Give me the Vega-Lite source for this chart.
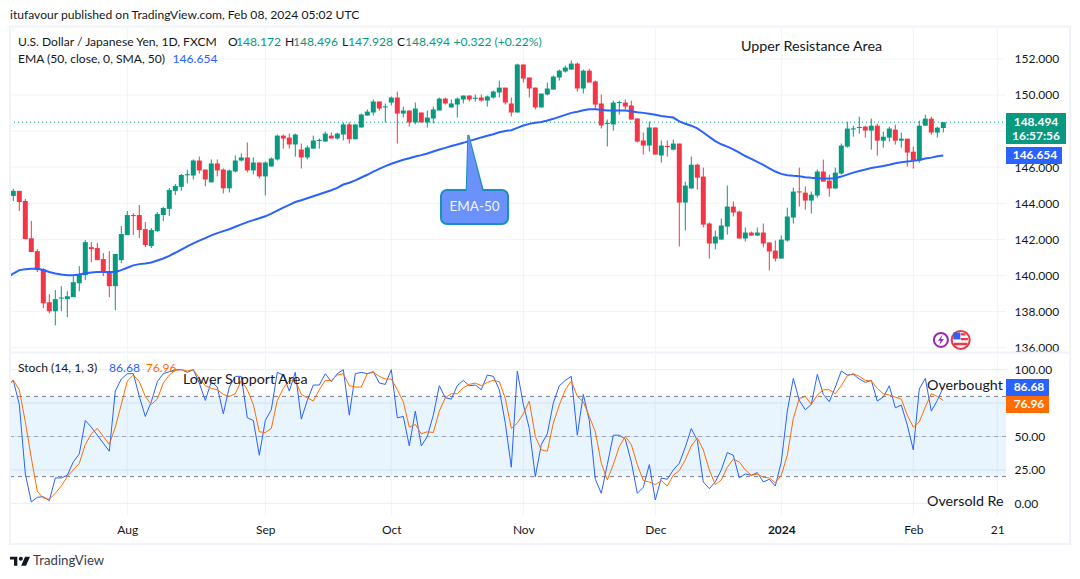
{
  "$schema": "https://vega.github.io/schema/vega-lite/v6.json",
  "width": 1080,
  "height": 579,
  "autosize": "none",
  "padding": 0,
  "background": "#ffffff",
  "config": {"font": "Lato", "view": {"stroke": null}},
  "datasets": {
    "ohlc": [
      {"i":-0.55,"ema":139.98,"k":90,"d":90},
      {"i":0,"o":144.41,"h":144.8,"l":144.13,"c":144.69,"ema":140.11,"k":92,"d":92},
      {"i":1,"o":144.69,"h":144.69,"l":143.57,"c":144.07,"ema":140.3,"k":74,"d":85},
      {"i":2,"o":144.13,"h":144.24,"l":142.02,"c":142.02,"ema":140.35,"k":22,"d":61},
      {"i":3,"o":142.07,"h":143.02,"l":141.3,"c":141.3,"ema":140.37,"k":1,"d":34},
      {"i":4,"o":141.35,"h":141.46,"l":140.19,"c":140.3,"ema":140.37,"k":4.5,"d":9},
      {"i":5,"o":140.35,"h":140.41,"l":138.19,"c":138.46,"ema":140.3,"k":5,"d":4},
      {"i":6,"o":138.52,"h":138.96,"l":137.91,"c":138.02,"ema":140.19,"k":2,"d":3},
      {"i":7,"o":138.02,"h":139.19,"l":137.24,"c":138.69,"ema":140.11,"k":19,"d":7.5},
      {"i":8,"o":138.72,"h":139.41,"l":138.02,"c":138.78,"ema":140.06,"k":19,"d":13},
      {"i":9,"o":138.69,"h":139.13,"l":137.69,"c":138.85,"ema":140.02,"k":21,"d":20},
      {"i":10,"o":138.8,"h":139.96,"l":138.8,"c":139.63,"ema":140.02,"k":31,"d":25},
      {"i":11,"o":139.57,"h":140.52,"l":139.13,"c":140.07,"ema":140.06,"k":37,"d":30},
      {"i":12,"o":140.02,"h":141.96,"l":139.74,"c":141.85,"ema":140.13,"k":62,"d":44},
      {"i":13,"o":141.57,"h":141.85,"l":140.74,"c":141.46,"ema":140.17,"k":57,"d":52},
      {"i":14,"o":141.52,"h":141.8,"l":140.85,"c":140.85,"ema":140.19,"k":51,"d":56},
      {"i":15,"o":140.91,"h":141.24,"l":139.96,"c":140.19,"ema":140.19,"k":45,"d":50},
      {"i":16,"o":140.24,"h":141.35,"l":138.8,"c":139.41,"ema":140.19,"k":39,"d":44},
      {"i":17,"o":139.41,"h":141.19,"l":138.07,"c":141.19,"ema":140.2,"k":84,"d":57},
      {"i":18,"o":140.85,"h":142.74,"l":140.69,"c":142.3,"ema":140.3,"k":93,"d":74},
      {"i":19,"o":142.24,"h":143.57,"l":142.24,"c":143.35,"ema":140.43,"k":97,"d":91.5},
      {"i":20,"o":143.35,"h":143.46,"l":142.24,"c":143.29,"ema":140.56,"k":97,"d":96},
      {"i":21,"o":143.35,"h":143.91,"l":142.07,"c":142.52,"ema":140.63,"k":80,"d":91},
      {"i":22,"o":142.57,"h":142.96,"l":141.57,"c":141.69,"ema":140.67,"k":65,"d":80},
      {"i":23,"o":141.63,"h":142.63,"l":141.52,"c":142.52,"ema":140.72,"k":76,"d":74},
      {"i":24,"o":142.46,"h":143.52,"l":142.41,"c":143.41,"ema":140.83,"k":91,"d":78},
      {"i":25,"o":143.35,"h":143.8,"l":143.02,"c":143.74,"ema":140.94,"k":97,"d":90},
      {"i":26,"o":143.69,"h":144.85,"l":143.3,"c":144.74,"ema":141.09,"k":98.5,"d":96},
      {"i":27,"o":144.69,"h":145.07,"l":144.46,"c":144.96,"ema":141.26,"k":100,"d":99.5},
      {"i":28,"o":144.91,"h":145.63,"l":144.69,"c":145.57,"ema":141.44,"k":100,"d":100},
      {"i":29,"o":145.55,"h":145.87,"l":145.1,"c":145.61,"ema":141.61,"k":98,"d":99},
      {"i":30,"o":145.54,"h":146.43,"l":145.32,"c":146.37,"ema":141.78,"k":100,"d":100},
      {"i":31,"o":146.37,"h":146.59,"l":145.65,"c":145.82,"ema":141.93,"k":90,"d":93.5},
      {"i":32,"o":145.87,"h":145.87,"l":144.94,"c":145.32,"ema":142.07,"k":77,"d":88},
      {"i":33,"o":145.16,"h":146.43,"l":145.16,"c":146.21,"ema":142.22,"k":91,"d":86},
      {"i":34,"o":146.21,"h":146.43,"l":145.49,"c":145.82,"ema":142.35,"k":87,"d":85},
      {"i":35,"o":145.87,"h":145.93,"l":144.55,"c":144.83,"ema":142.46,"k":67,"d":81.5},
      {"i":36,"o":144.83,"h":145.87,"l":144.6,"c":145.82,"ema":142.56,"k":87,"d":80},
      {"i":37,"o":145.76,"h":146.65,"l":145.71,"c":146.37,"ema":142.7,"k":95,"d":82},
      {"i":38,"o":146.37,"h":146.76,"l":146.32,"c":146.54,"ema":142.83,"k":95,"d":92},
      {"i":39,"o":146.54,"h":147.37,"l":145.71,"c":145.82,"ema":142.96,"k":64,"d":85},
      {"i":40,"o":145.82,"h":146.54,"l":145.6,"c":146.26,"ema":143.07,"k":62,"d":74},
      {"i":41,"o":146.26,"h":146.26,"l":145.38,"c":145.49,"ema":143.17,"k":36,"d":53.5},
      {"i":42,"o":145.49,"h":146.32,"l":144.44,"c":146.26,"ema":143.28,"k":62,"d":53},
      {"i":43,"o":146.04,"h":146.54,"l":146.04,"c":146.48,"ema":143.43,"k":70,"d":56},
      {"i":44,"o":146.43,"h":147.81,"l":146.37,"c":147.75,"ema":143.59,"k":98,"d":77},
      {"i":45,"o":147.75,"h":147.81,"l":147.03,"c":147.59,"ema":143.76,"k":96,"d":86},
      {"i":46,"o":147.64,"h":147.86,"l":147.03,"c":147.26,"ema":143.91,"k":84,"d":92},
      {"i":47,"o":147.26,"h":147.86,"l":146.59,"c":147.81,"ema":144.07,"k":98,"d":92},
      {"i":48,"o":146.98,"h":147.31,"l":145.93,"c":146.54,"ema":144.17,"k":63,"d":81.5},
      {"i":49,"o":146.54,"h":147.2,"l":146.43,"c":147.09,"ema":144.28,"k":77,"d":79},
      {"i":50,"o":147.03,"h":147.75,"l":147.03,"c":147.48,"ema":144.39,"k":88.5,"d":76.5},
      {"i":51,"o":147.45,"h":147.59,"l":147.03,"c":147.51,"ema":144.5,"k":88.5,"d":85},
      {"i":52,"o":147.42,"h":147.97,"l":147.42,"c":147.86,"ema":144.61,"k":97,"d":92},
      {"i":53,"o":147.75,"h":147.92,"l":147.59,"c":147.59,"ema":144.72,"k":91,"d":92},
      {"i":54,"o":147.59,"h":147.92,"l":147.53,"c":147.86,"ema":144.85,"k":97,"d":96},
      {"i":55,"o":147.81,"h":148.48,"l":147.48,"c":148.37,"ema":145.04,"k":100,"d":97},
      {"i":56,"o":148.37,"h":148.48,"l":147.31,"c":147.55,"ema":145.14,"k":66,"d":88},
      {"i":57,"o":147.55,"h":148.37,"l":147.53,"c":148.37,"ema":145.27,"k":97,"d":87},
      {"i":58,"o":148.2,"h":148.97,"l":148.2,"c":148.92,"ema":145.43,"k":98,"d":87},
      {"i":59,"o":148.86,"h":149.2,"l":148.86,"c":149.08,"ema":145.58,"k":97,"d":97},
      {"i":60,"o":149.03,"h":149.75,"l":148.86,"c":149.64,"ema":145.75,"k":98.5,"d":98},
      {"i":61,"o":149.64,"h":149.64,"l":149.14,"c":149.25,"ema":145.91,"k":90,"d":95},
      {"i":62,"o":149.31,"h":149.53,"l":148.48,"c":149.37,"ema":146.06,"k":89,"d":93},
      {"i":63,"o":149.58,"h":149.92,"l":149.42,"c":149.86,"ema":146.19,"k":100,"d":93},
      {"i":64,"o":149.86,"h":150.19,"l":147.31,"c":148.97,"ema":146.3,"k":64,"d":85},
      {"i":65,"o":148.97,"h":149.36,"l":148.75,"c":149.14,"ema":146.41,"k":65,"d":76},
      {"i":66,"o":149.14,"h":149.14,"l":148.25,"c":148.48,"ema":146.5,"k":43,"d":57},
      {"i":67,"o":148.48,"h":149.58,"l":148.37,"c":149.25,"ema":146.59,"k":69,"d":59},
      {"i":68,"o":149.03,"h":149.03,"l":148.48,"c":148.48,"ema":146.67,"k":43,"d":52},
      {"i":69,"o":148.48,"h":149.14,"l":148.2,"c":148.75,"ema":146.76,"k":50,"d":53.5},
      {"i":70,"o":148.7,"h":149.36,"l":148.42,"c":149.2,"ema":146.87,"k":66,"d":53},
      {"i":71,"o":149.14,"h":149.86,"l":149.14,"c":149.8,"ema":146.98,"k":88,"d":69},
      {"i":72,"o":149.8,"h":149.86,"l":149.47,"c":149.53,"ema":147.07,"k":79,"d":79},
      {"i":73,"o":149.31,"h":149.75,"l":149.31,"c":149.53,"ema":147.17,"k":78,"d":82},
      {"i":74,"o":149.47,"h":149.86,"l":148.75,"c":149.8,"ema":147.26,"k":88,"d":82},
      {"i":75,"o":149.75,"h":149.97,"l":149.53,"c":149.97,"ema":147.35,"k":92,"d":86.5},
      {"i":76,"o":149.97,"h":149.97,"l":149.64,"c":149.75,"ema":147.46,"k":88,"d":89},
      {"i":77,"o":149.79,"h":150.03,"l":149.64,"c":149.85,"ema":147.55,"k":88.5,"d":90},
      {"i":78,"o":149.86,"h":150.03,"l":149.64,"c":149.69,"ema":147.65,"k":85,"d":88},
      {"i":79,"o":149.69,"h":149.97,"l":149.36,"c":149.92,"ema":147.74,"k":96,"d":90.5},
      {"i":80,"o":149.86,"h":150.25,"l":149.8,"c":150.19,"ema":147.83,"k":95,"d":92},
      {"i":81,"o":150.14,"h":150.8,"l":149.86,"c":150.41,"ema":147.94,"k":85,"d":91},
      {"i":82,"o":150.41,"h":150.41,"l":149.47,"c":149.58,"ema":148.01,"k":60,"d":78.5},
      {"i":83,"o":149.53,"h":149.86,"l":148.81,"c":149.03,"ema":148.05,"k":27,"d":56},
      {"i":84,"o":149.03,"h":151.74,"l":149.03,"c":151.69,"ema":148.18,"k":99,"d":60},
      {"i":85,"o":151.69,"h":151.69,"l":150.69,"c":150.91,"ema":148.31,"k":74,"d":67},
      {"i":86,"o":150.97,"h":150.97,"l":149.86,"c":150.36,"ema":148.4,"k":56,"d":76.5},
      {"i":87,"o":150.41,"h":150.41,"l":149.2,"c":149.31,"ema":148.46,"k":20,"d":50},
      {"i":88,"o":149.31,"h":150.08,"l":149.31,"c":150.08,"ema":148.51,"k":44,"d":40},
      {"i":89,"o":150.03,"h":150.69,"l":149.97,"c":150.36,"ema":148.59,"k":52,"d":39},
      {"i":90,"o":150.3,"h":151.08,"l":150.3,"c":151.02,"ema":148.68,"k":75,"d":60},
      {"i":91,"o":150.97,"h":151.41,"l":150.8,"c":151.35,"ema":148.79,"k":88,"d":73.5},
      {"i":92,"o":151.3,"h":151.63,"l":151.24,"c":151.52,"ema":148.9,"k":92,"d":85},
      {"i":93,"o":151.41,"h":151.91,"l":151.41,"c":151.74,"ema":149.01,"k":95,"d":91.5},
      {"i":94,"o":151.74,"h":151.8,"l":150.19,"c":150.36,"ema":149.07,"k":51,"d":80},
      {"i":95,"o":150.36,"h":151.41,"l":150.08,"c":151.35,"ema":149.16,"k":81.5,"d":76},
      {"i":96,"o":151.35,"h":151.46,"l":150.69,"c":150.69,"ema":149.21,"k":62,"d":65},
      {"i":97,"o":150.75,"h":150.8,"l":149.2,"c":149.47,"ema":149.21,"k":18,"d":53.5},
      {"i":98,"o":149.53,"h":150.03,"l":148.14,"c":148.31,"ema":149.18,"k":7.5,"d":30},
      {"i":99,"o":148.39,"h":148.64,"l":147.15,"c":148.45,"ema":149.14,"k":29,"d":17.5},
      {"i":100,"o":148.37,"h":149.69,"l":148.03,"c":149.58,"ema":149.14,"k":51,"d":29},
      {"i":101,"o":149.55,"h":149.69,"l":148.92,"c":149.61,"ema":149.14,"k":51,"d":42.5},
      {"i":102,"o":149.58,"h":149.75,"l":149.2,"c":149.36,"ema":149.14,"k":48,"d":50},
      {"i":103,"o":149.42,"h":149.69,"l":148.64,"c":148.64,"ema":149.1,"k":31,"d":44},
      {"i":104,"o":148.7,"h":148.7,"l":147.37,"c":147.42,"ema":149.05,"k":7.5,"d":29},
      {"i":105,"o":147.48,"h":147.92,"l":146.7,"c":147.2,"ema":149.01,"k":12,"d":17},
      {"i":106,"o":147.2,"h":148.53,"l":146.87,"c":148.2,"ema":148.96,"k":29,"d":16},
      {"i":107,"o":148.2,"h":148.2,"l":146.7,"c":146.7,"ema":148.9,"k":2.5,"d":14},
      {"i":108,"o":146.65,"h":147.48,"l":146.26,"c":147.2,"ema":148.84,"k":19,"d":17},
      {"i":109,"o":147.18,"h":147.48,"l":146.59,"c":147.12,"ema":148.79,"k":18,"d":13},
      {"i":110,"o":146.97,"h":147.53,"l":146.93,"c":147.31,"ema":148.75,"k":25,"d":21},
      {"i":111,"o":147.31,"h":147.31,"l":141.61,"c":144.04,"ema":148.54,"k":30,"d":24.5},
      {"i":112,"o":144.04,"h":145.2,"l":142.49,"c":144.98,"ema":148.41,"k":42,"d":32.5},
      {"i":113,"o":144.82,"h":146.59,"l":144.82,"c":146.14,"ema":148.3,"k":56,"d":43},
      {"i":114,"o":146.14,"h":146.2,"l":144.76,"c":145.42,"ema":148.15,"k":47,"d":49},
      {"i":115,"o":145.48,"h":145.98,"l":142.66,"c":142.82,"ema":147.92,"k":16,"d":40},
      {"i":116,"o":142.88,"h":142.94,"l":140.94,"c":141.77,"ema":147.68,"k":11,"d":25},
      {"i":117,"o":141.77,"h":142.49,"l":141.44,"c":142.16,"ema":147.45,"k":16,"d":14},
      {"i":118,"o":141.99,"h":143.15,"l":141.99,"c":142.77,"ema":147.27,"k":25,"d":17.5},
      {"i":119,"o":142.71,"h":144.98,"l":142.27,"c":143.82,"ema":147.14,"k":38,"d":27},
      {"i":120,"o":143.82,"h":144.1,"l":143.27,"c":143.49,"ema":146.99,"k":36,"d":33},
      {"i":121,"o":143.54,"h":143.6,"l":142.05,"c":142.05,"ema":146.81,"k":19,"d":31},
      {"i":122,"o":142.05,"h":142.66,"l":141.88,"c":142.38,"ema":146.62,"k":22,"d":25},
      {"i":123,"o":142.38,"h":142.44,"l":142.21,"c":142.21,"ema":146.46,"k":21,"d":21},
      {"i":124,"o":142.21,"h":142.66,"l":142.21,"c":142.38,"ema":146.29,"k":23,"d":22},
      {"i":125,"o":142.38,"h":142.88,"l":141.55,"c":141.77,"ema":146.13,"k":16,"d":19.5},
      {"i":126,"o":141.83,"h":141.83,"l":140.28,"c":141.33,"ema":145.94,"k":18,"d":19},
      {"i":127,"o":141.38,"h":141.94,"l":140.78,"c":140.94,"ema":145.76,"k":13,"d":15.5},
      {"i":128,"o":140.94,"h":142.21,"l":140.94,"c":141.99,"ema":145.63,"k":31,"d":21},
      {"i":129,"o":141.94,"h":143.76,"l":141.88,"c":143.27,"ema":145.55,"k":69,"d":36},
      {"i":130,"o":143.21,"h":144.87,"l":142.88,"c":144.65,"ema":145.52,"k":93.5,"d":63.5},
      {"i":131,"o":144.66,"h":145.98,"l":143.82,"c":144.6,"ema":145.5,"k":77,"d":78.5},
      {"i":132,"o":144.59,"h":144.93,"l":143.65,"c":144.15,"ema":145.44,"k":70,"d":80},
      {"i":133,"o":144.15,"h":144.65,"l":143.43,"c":144.48,"ema":145.41,"k":74,"d":74},
      {"i":134,"o":144.43,"h":145.87,"l":144.32,"c":145.76,"ema":145.39,"k":96.5,"d":81},
      {"i":135,"o":145.76,"h":146.42,"l":145.2,"c":145.2,"ema":145.37,"k":81.5,"d":85},
      {"i":136,"o":145.26,"h":145.59,"l":144.37,"c":144.82,"ema":145.37,"k":76,"d":85},
      {"i":137,"o":144.82,"h":145.98,"l":144.82,"c":145.7,"ema":145.39,"k":87,"d":82},
      {"i":138,"o":145.65,"h":147.31,"l":145.59,"c":147.2,"ema":145.48,"k":99,"d":88},
      {"i":139,"o":147.14,"h":148.52,"l":147.08,"c":148.14,"ema":145.59,"k":96,"d":95.5},
      {"i":140,"o":148.09,"h":148.3,"l":147.69,"c":148.15,"ema":145.7,"k":96.5,"d":97},
      {"i":141,"o":148.17,"h":148.8,"l":147.86,"c":148.23,"ema":145.79,"k":93,"d":95},
      {"i":142,"o":148.25,"h":148.3,"l":147.64,"c":148.03,"ema":145.87,"k":90.5,"d":92},
      {"i":143,"o":148.03,"h":148.69,"l":146.97,"c":148.3,"ema":145.96,"k":92,"d":91.5},
      {"i":144,"o":148.3,"h":148.41,"l":146.64,"c":147.47,"ema":146.01,"k":76.5,"d":86},
      {"i":145,"o":147.47,"h":147.97,"l":147.08,"c":147.69,"ema":146.07,"k":79.5,"d":82},
      {"i":146,"o":147.64,"h":148.25,"l":147.42,"c":148.14,"ema":146.14,"k":88,"d":81},
      {"i":147,"o":148.08,"h":148.36,"l":147.25,"c":147.47,"ema":146.22,"k":71.5,"d":79.5},
      {"i":148,"o":147.47,"h":147.92,"l":147.08,"c":147.58,"ema":146.27,"k":73.5,"d":78},
      {"i":149,"o":147.58,"h":147.58,"l":146.03,"c":146.81,"ema":146.31,"k":58.5,"d":66},
      {"i":150,"o":146.86,"h":147.14,"l":145.92,"c":146.37,"ema":146.35,"k":40,"d":57},
      {"i":151,"o":146.37,"h":148.58,"l":146.25,"c":148.3,"ema":146.4,"k":85.5,"d":61},
      {"i":152,"o":148.3,"h":148.91,"l":148.3,"c":148.69,"ema":146.48,"k":93.5,"d":72},
      {"i":153,"o":148.69,"h":148.8,"l":147.8,"c":147.92,"ema":146.53,"k":69,"d":82},
      {"i":154,"o":147.92,"h":148.25,"l":147.64,"c":148.19,"ema":146.61,"k":77,"d":80},
      {"i":155,"o":148.172,"h":148.496,"l":147.928,"c":148.494,"ema":146.654,"k":86.68,"d":76.96}
    ],
    "xgrid": [{"i":19},{"i":42},{"i":63},{"i":85},{"i":107},{"i":128},{"i":150},{"i":164}],
    "pgrid": [
      {"i":-0.55,"i2":165.45,"v":152},{"i":-0.55,"i2":165.45,"v":150},{"i":-0.55,"i2":165.45,"v":148},
      {"i":-0.55,"i2":165.45,"v":146},{"i":-0.55,"i2":165.45,"v":144},{"i":-0.55,"i2":165.45,"v":142},
      {"i":-0.55,"i2":165.45,"v":140},{"i":-0.55,"i2":165.45,"v":138},{"i":-0.55,"i2":165.45,"v":136}
    ],
    "sgrid": [
      {"i":-0.55,"i2":165.45,"v":100},{"i":-0.55,"i2":165.45,"v":75},{"i":-0.55,"i2":165.45,"v":50},
      {"i":-0.55,"i2":165.45,"v":25},{"i":-0.55,"i2":165.45,"v":0}
    ],
    "notes": [
      {"t":"itufavour published on TradingView.com, Feb 08, 2024 05:02 UTC","i":-0.55,"y":154.43,"tone":"ink"},
      {"t":"U.S. Dollar / Japanese Yen, 1D, FXCM","i":0.78,"y":152.94,"tone":"ink"},
      {"t":"O","i":35.78,"y":152.94,"tone":"ink"},
      {"t":"148.172","i":37.12,"y":152.94,"tone":"up"},
      {"t":"H","i":45.28,"y":152.94,"tone":"ink"},
      {"t":"148.496","i":46.62,"y":152.94,"tone":"up"},
      {"t":"L","i":54.78,"y":152.94,"tone":"ink"},
      {"t":"147.928","i":55.78,"y":152.94,"tone":"up"},
      {"t":"C","i":63.95,"y":152.94,"tone":"ink"},
      {"t":"148.494","i":65.28,"y":152.94,"tone":"up"},
      {"t":"+0.322 (+0.22%)","i":73.38,"y":152.94,"tone":"up"},
      {"t":"EMA (50, close, 0, SMA, 50)","i":0.78,"y":151.99,"tone":"ink"},
      {"t":"146.654","i":26.53,"y":151.99,"tone":"ema"},
      {"t":"Stoch (14, 1, 3)","i":0.78,"y":134.88,"tone":"ink"},
      {"t":"86.68","i":15.95,"y":134.88,"tone":"ema"},
      {"t":"76.96","i":22.07,"y":134.88,"tone":"d"}
    ],
    "areas": [
      {"t":"Upper Resistance Area","i":121.28,"y":152.66},
      {"t":"Lower Support Area","i":28.28,"y":134.21}
    ],
    "cutoff": [
      {"t":"Overbought Region","i":152.28,"y":133.88},
      {"t":"Oversold Region","i":152.28,"y":127.45}
    ],
    "priceTags": [
      {"i":165.45,"i2":175.45,"a":149.0,"b":147.29,"tone":"up"},
      {"i":165.45,"i2":174.78,"a":147.12,"b":146.18,"tone":"ema"}
    ],
    "priceTagText": [
      {"t":"148.494","i":170.45,"y":148.52},
      {"t":"16:57:56","i":170.45,"y":147.73},
      {"t":"146.654","i":170.28,"y":146.65}
    ],
    "stochTags": [
      {"i":165.45,"i2":172.62,"a":93.0,"b":80.3,"tone":"k"},
      {"i":165.45,"i2":172.62,"a":80.3,"b":67.6,"tone":"d"}
    ],
    "stochTagText": [
      {"t":"86.68","i":169.28,"y":86.8},
      {"t":"76.96","i":169.28,"y":74.0}
    ],
    "pointer": [
      {"i":75.83,"i2":75.83,"y":147.78},
      {"i":75.57,"i2":78.23,"y":144.74}
    ],
    "pointerCover": [
      {"i":75.83,"i2":75.83,"y":147.78},
      {"i":75.57,"i2":78.23,"y":144.65}
    ]
  },
  "encoding": {
    "x": {
      "field": "i",
      "type": "quantitative",
      "scale": {"domain": [-2.217, 177.783], "nice": false, "zero": false, "padding": 0},
      "axis": {
        "orient": "bottom",
        "offset": -59,
        "title": null,
        "domain": false,
        "ticks": false,
        "grid": false,
        "values": [19, 42, 63, 85, 107, 128, 150, 164],
        "labelExpr": "{'19':'Aug','42':'Sep','63':'Oct','85':'Nov','107':'Dec','128':'2024','150':'Feb','164':'21'}[datum.value + '']",
        "labelFontSize": 12,
        "labelColor": "#131722",
        "labelPadding": 4,
        "labelFlush": false,
        "labelBound": false,
        "labelOverlap": false,
        "labelFontWeight": {"condition": {"test": "datum.value == 128", "value": "bold"}, "value": "normal"}
      }
    }
  },
  "resolve": {"scale": {"y": "independent"}, "axis": {"y": "independent"}},
  "layer": [
    {
      "layer": [
        {
          "data": {"name": "pgrid"},
          "mark": {"type": "rule", "color": "#f0f3fa", "strokeWidth": 1},
          "encoding": {
            "x2": {"field": "i2"},
            "y": {
              "field": "v",
              "type": "quantitative",
              "scale": {"domain": [123.186, 155.263], "nice": false, "zero": false},
              "axis": {
                "orient": "right",
                "offset": -70,
                "title": null,
                "domain": false,
                "ticks": false,
                "grid": false,
                "values": [152, 150, 146, 144, 142, 140, 138, 136],
                "format": ".3f",
                "labelFontSize": 12,
                "labelColor": "#131722",
                "labelPadding": 4,
                "labelBound": false,
                "labelOverlap": false
              }
            }
          }
        },
        {
          "data": {"name": "xgrid"},
          "mark": {"type": "rule", "color": "#f0f3fa", "strokeWidth": 1},
          "encoding": {
            "y": {"datum": 153.74, "type": "quantitative", "scale": {"domain": [123.186, 155.263], "nice": false, "zero": false}},
            "y2": {"datum": 126.73}
          }
        },
        {
          "data": {"values": [{"i": -0.55, "i2": 165.45, "v": 148.494}]},
          "mark": {"type": "rule", "color": "#089981", "strokeWidth": 1, "strokeDash": [1, 3]},
          "encoding": {
            "x2": {"field": "i2"},
            "y": {"field": "v", "type": "quantitative", "scale": {"domain": [123.186, 155.263], "nice": false, "zero": false}}
          }
        },
        {
          "data": {"name": "ohlc"},
          "transform": [{"filter": "datum.c != null"}],
          "layer": [
            {
              "mark": {"type": "rule", "strokeWidth": 1},
              "encoding": {
                "y": {"field": "l", "type": "quantitative", "scale": {"domain": [123.186, 155.263], "nice": false, "zero": false}},
                "y2": {"field": "h"},
                "color": {"condition": {"test": "datum.c >= datum.o", "value": "#089981"}, "value": "#f23645"}
              }
            },
            {
              "mark": {"type": "bar", "size": 5},
              "encoding": {
                "y": {"field": "o", "type": "quantitative", "scale": {"domain": [123.186, 155.263], "nice": false, "zero": false}},
                "y2": {"field": "c"},
                "color": {"condition": {"test": "datum.c >= datum.o", "value": "#089981"}, "value": "#f23645"}
              }
            }
          ]
        },
        {
          "data": {"name": "ohlc"},
          "mark": {"type": "line", "color": "#2962ff", "strokeWidth": 2},
          "encoding": {
            "y": {"field": "ema", "type": "quantitative", "scale": {"domain": [123.186, 155.263], "nice": false, "zero": false}}
          }
        }
      ]
    },
    {
      "layer": [
        {
          "data": {"name": "sgrid"},
          "mark": {"type": "rule", "color": "#e8ecf4", "strokeWidth": 1},
          "encoding": {
            "x2": {"field": "i2"},
            "y": {
              "field": "v",
              "type": "quantitative",
              "scale": {"domain": [-56.6, 376.56], "nice": false, "zero": false},
              "axis": {
                "orient": "right",
                "offset": -70,
                "title": null,
                "domain": false,
                "ticks": false,
                "grid": false,
                "values": [100, 50, 25, 0],
                "format": ".2f",
                "labelFontSize": 12,
                "labelColor": "#131722",
                "labelPadding": 4,
                "labelBound": false,
                "labelOverlap": false
              }
            }
          }
        },
        {
          "data": {"values": [{"i": -0.55, "i2": 165.45, "a": 80, "b": 20}]},
          "mark": {"type": "rect", "color": "#2196f3", "opacity": 0.1},
          "encoding": {
            "x2": {"field": "i2"},
            "y": {"field": "a", "type": "quantitative", "scale": {"domain": [-56.6, 376.56], "nice": false, "zero": false}},
            "y2": {"field": "b"}
          }
        },
        {
          "data": {"values": [{"i": -0.55, "i2": 165.45, "v": 80}, {"i": -0.55, "i2": 165.45, "v": 20}]},
          "mark": {"type": "rule", "color": "#787b86", "strokeWidth": 1, "strokeDash": [4, 4]},
          "encoding": {
            "x2": {"field": "i2"},
            "y": {"field": "v", "type": "quantitative", "scale": {"domain": [-56.6, 376.56], "nice": false, "zero": false}}
          }
        },
        {
          "data": {"values": [{"i": -0.55, "i2": 165.45, "v": 50}]},
          "mark": {"type": "rule", "color": "#787b86", "strokeWidth": 1, "strokeDash": [4, 4], "opacity": 0.6},
          "encoding": {
            "x2": {"field": "i2"},
            "y": {"field": "v", "type": "quantitative", "scale": {"domain": [-56.6, 376.56], "nice": false, "zero": false}}
          }
        },
        {
          "data": {"name": "ohlc"},
          "mark": {"type": "line", "color": "#2962ff", "strokeWidth": 1},
          "encoding": {
            "y": {"field": "k", "type": "quantitative", "scale": {"domain": [-56.6, 376.56], "nice": false, "zero": false}}
          }
        },
        {
          "data": {"name": "ohlc"},
          "mark": {"type": "line", "color": "#ff6d00", "strokeWidth": 1},
          "encoding": {
            "y": {"field": "d", "type": "quantitative", "scale": {"domain": [-56.6, 376.56], "nice": false, "zero": false}}
          }
        },
        {
          "data": {"name": "stochTags"},
          "mark": {"type": "rect"},
          "encoding": {
            "x2": {"field": "i2"},
            "y": {"field": "a", "type": "quantitative", "scale": {"domain": [-56.6, 376.56], "nice": false, "zero": false}},
            "y2": {"field": "b"},
            "color": {"field": "tone", "type": "nominal", "legend": null, "scale": {"domain": ["ink", "up", "ema", "k", "d"], "range": ["#131722", "#089981", "#2962ff", "#2962ff", "#ff6d00"]}}
          }
        },
        {
          "data": {"name": "stochTagText"},
          "mark": {"type": "text", "color": "#ffffff", "fontSize": 12, "fontWeight": "bold", "align": "center", "baseline": "middle"},
          "encoding": {
            "y": {"field": "y", "type": "quantitative", "scale": {"domain": [-56.6, 376.56], "nice": false, "zero": false}},
            "text": {"field": "t"}
          }
        }
      ]
    },
    {
      "layer": [
        {
          "data": {"values": [{"i": -0.55, "i2": 176.12, "a": 153.79, "b": 125.13}]},
          "mark": {"type": "rect", "fillOpacity": 0, "stroke": "#f0f3fa", "strokeWidth": 2},
          "encoding": {
            "x2": {"field": "i2"},
            "y": {"field": "a", "type": "quantitative", "scale": {"domain": [123.186, 155.263], "nice": false, "zero": false}, "axis": null},
            "y2": {"field": "b"}
          }
        },
        {
          "data": {"values": [{"i": -0.55, "i2": 176.12, "v": 135.73}]},
          "mark": {"type": "rule", "color": "#f0f3fa", "strokeWidth": 2},
          "encoding": {
            "x2": {"field": "i2"},
            "y": {"field": "v", "type": "quantitative", "scale": {"domain": [123.186, 155.263], "nice": false, "zero": false}, "axis": null}
          }
        },
        {
          "data": {"name": "priceTags"},
          "mark": {"type": "rect"},
          "encoding": {
            "x2": {"field": "i2"},
            "y": {"field": "a", "type": "quantitative", "scale": {"domain": [123.186, 155.263], "nice": false, "zero": false}, "axis": null},
            "y2": {"field": "b"},
            "color": {"field": "tone", "type": "nominal", "legend": null, "scale": {"domain": ["ink", "up", "ema", "k", "d"], "range": ["#131722", "#089981", "#2962ff", "#2962ff", "#ff6d00"]}}
          }
        },
        {
          "data": {"name": "priceTagText"},
          "mark": {"type": "text", "color": "#ffffff", "fontSize": 12, "fontWeight": "bold", "align": "center", "baseline": "middle"},
          "encoding": {
            "y": {"field": "y", "type": "quantitative", "scale": {"domain": [123.186, 155.263], "nice": false, "zero": false}, "axis": null},
            "text": {"field": "t"}
          }
        },
        {
          "data": {"name": "notes"},
          "mark": {"type": "text", "fontSize": 12.1, "align": "left", "baseline": "middle"},
          "encoding": {
            "y": {"field": "y", "type": "quantitative", "scale": {"domain": [123.186, 155.263], "nice": false, "zero": false}, "axis": null},
            "text": {"field": "t"},
            "color": {"field": "tone", "type": "nominal", "legend": null, "scale": {"domain": ["ink", "up", "ema", "k", "d"], "range": ["#131722", "#089981", "#2962ff", "#2962ff", "#ff6d00"]}}
          }
        },
        {
          "data": {"name": "areas"},
          "mark": {"type": "text", "fontSize": 14.3, "align": "left", "baseline": "middle", "color": "#131722"},
          "encoding": {
            "y": {"field": "y", "type": "quantitative", "scale": {"domain": [123.186, 155.263], "nice": false, "zero": false}, "axis": null},
            "text": {"field": "t"}
          }
        },
        {
          "data": {"name": "cutoff"},
          "mark": {"type": "text", "fontSize": 14.3, "align": "left", "baseline": "middle", "color": "#131722", "limit": 82, "ellipsis": " "},
          "encoding": {
            "y": {"field": "y", "type": "quantitative", "scale": {"domain": [123.186, 155.263], "nice": false, "zero": false}, "axis": null},
            "text": {"field": "t"}
          }
        },
        {
          "data": {"name": "pointer"},
          "mark": {"type": "area", "orient": "horizontal", "fill": "#6a92fa", "stroke": "#1a8fbf", "strokeWidth": 2},
          "encoding": {
            "x2": {"field": "i2"},
            "y": {"field": "y", "type": "quantitative", "scale": {"domain": [123.186, 155.263], "nice": false, "zero": false}, "axis": null}
          }
        },
        {
          "data": {"values": [{"i": 71.28, "i2": 82.45, "a": 144.74, "b": 142.85}]},
          "mark": {"type": "rect", "fill": "#6a92fa", "stroke": "#1a8fbf", "strokeWidth": 2, "cornerRadius": 6},
          "encoding": {
            "x2": {"field": "i2"},
            "y": {"field": "a", "type": "quantitative", "scale": {"domain": [123.186, 155.263], "nice": false, "zero": false}, "axis": null},
            "y2": {"field": "b"}
          }
        },
        {
          "data": {"name": "pointerCover"},
          "mark": {"type": "area", "orient": "horizontal", "fill": "#6a92fa"},
          "encoding": {
            "x2": {"field": "i2"},
            "y": {"field": "y", "type": "quantitative", "scale": {"domain": [123.186, 155.263], "nice": false, "zero": false}, "axis": null}
          }
        },
        {
          "data": {"values": [{"t": "EMA-50", "i": 76.87, "y": 143.8}]},
          "mark": {"type": "text", "color": "#f2f5ff", "fontSize": 13.5, "align": "center", "baseline": "middle"},
          "encoding": {
            "y": {"field": "y", "type": "quantitative", "scale": {"domain": [123.186, 155.263], "nice": false, "zero": false}, "axis": null},
            "text": {"field": "t"}
          }
        },
        {
          "data": {"values": [{"i": 154.6, "y": 136.43}]},
          "mark": {"type": "point", "shape": "circle", "size": 196, "filled": false, "stroke": "#9c27b0", "strokeWidth": 2, "opacity": 1},
          "encoding": {
            "y": {"field": "y", "type": "quantitative", "scale": {"domain": [123.186, 155.263], "nice": false, "zero": false}, "axis": null}
          }
        },
        {
          "data": {"values": [{"i": 154.6, "y": 136.43}]},
          "mark": {"type": "point", "shape": "M.3 -1L-.6 .15H-.05L-.3 1L.6 -.2H.05L.3 -1Z", "size": 100, "filled": true, "fill": "#9c27b0", "opacity": 1},
          "encoding": {
            "y": {"field": "y", "type": "quantitative", "scale": {"domain": [123.186, 155.263], "nice": false, "zero": false}, "axis": null}
          }
        },
        {
          "data": {"values": [{"i": 157.9, "y": 136.43}]},
          "mark": {"type": "point", "shape": "circle", "size": 324, "filled": true, "fill": "#ffffff", "stroke": "#f23645", "strokeWidth": 2, "opacity": 1},
          "encoding": {
            "y": {"field": "y", "type": "quantitative", "scale": {"domain": [123.186, 155.263], "nice": false, "zero": false}, "axis": null}
          }
        },
        {
          "data": {"values": [{"i": 157.9, "y": 136.43}]},
          "mark": {"type": "point", "shape": "M0 -.85H.6V-.55H0ZM0 -.25H.9V.05H0ZM-.85 .35H.85V.65H-.85Z", "size": 256, "filled": true, "fill": "#f23645", "opacity": 1},
          "encoding": {
            "y": {"field": "y", "type": "quantitative", "scale": {"domain": [123.186, 155.263], "nice": false, "zero": false}, "axis": null}
          }
        },
        {
          "data": {"values": [{"i": 157.25, "y": 136.65}]},
          "mark": {"type": "square", "size": 49, "fill": "#2962ff", "opacity": 1},
          "encoding": {
            "y": {"field": "y", "type": "quantitative", "scale": {"domain": [123.186, 155.263], "nice": false, "zero": false}, "axis": null}
          }
        },
        {
          "data": {"values": [{"i": 1.12, "y": 124.18}]},
          "mark": {"type": "point", "shape": "M-1 -.43H-.27V.47H-.6V-.15H-1ZM-.12 -.23A.2 .2 0 1 1 .28 -.23A.2 .2 0 1 1 -.12 -.23ZM.5 -.43H1L.6 .47H.12Z", "size": 400, "filled": true, "fill": "#131722", "opacity": 1},
          "encoding": {
            "y": {"field": "y", "type": "quantitative", "scale": {"domain": [123.186, 155.263], "nice": false, "zero": false}, "axis": null}
          }
        },
        {
          "data": {"values": [{"t": "TradingView", "i": 3.28, "y": 124.18}]},
          "mark": {"type": "text", "color": "#3a3e4a", "fontSize": 13.2, "align": "left", "baseline": "middle"},
          "encoding": {
            "y": {"field": "y", "type": "quantitative", "scale": {"domain": [123.186, 155.263], "nice": false, "zero": false}, "axis": null},
            "text": {"field": "t"}
          }
        }
      ]
    }
  ]
}
